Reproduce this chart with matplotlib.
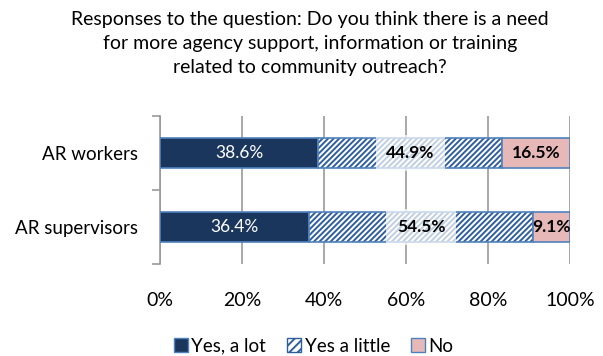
import matplotlib
matplotlib.use("Agg")
import matplotlib.pyplot as plt
from matplotlib.patches import Patch
import numpy as np

plt.rcParams['font.family'] = ['Lato', 'DejaVu Sans']
plt.rcParams['hatch.linewidth'] = 1.4

groups = ["AR workers", "AR supervisors"]
series = ["Yes, a lot", "Yes a little", "No"]
yes_lot = [38.6, 36.4]
yes_little = [44.9, 54.5]
no = [16.5, 9.1]
xticks = [0, 20, 40, 60, 80, 100]
xtick_labels = ["0%", "20%", "40%", "60%", "80%", "100%"]

navy = "#1B365D"
outline = "#4F81BD"
hatch_blue = "#2F5E9E"
pink = "#E6B9B8"

fig = plt.figure(figsize=(6.03, 3.56), dpi=100)
ax = fig.add_axes([160/603, 1-264/356, 410/603, 148/356])

y = np.array([1, 0])
h = 0.41
left = np.zeros(2)

ax.barh(y, yes_lot, left=left, height=h, color=navy, edgecolor=outline, linewidth=1.2, zorder=3)
left = left + np.array(yes_lot)
ax.barh(y, yes_little, left=left, height=h, color="white", edgecolor=hatch_blue,
        hatch="//////", linewidth=0, zorder=3)
ax.barh(y, yes_little, left=left, height=h, fill=False, edgecolor=outline, linewidth=1.2, zorder=3)
left2 = left + np.array(yes_little)
ax.barh(y, no, left=left2, height=h, color=pink, edgecolor=outline, linewidth=1.2, zorder=3)

for i in range(2):
    ax.text(yes_lot[i] / 2, y[i], f"{yes_lot[i]:.1f}%", color="white", ha="center",
            va="center", fontsize=12.5, zorder=5)
    ax.text(left[i] + yes_little[i] / 2, y[i], f"{yes_little[i]:.1f}%", color="black",
            ha="center", va="center", fontsize=12.5, fontweight="bold", zorder=5,
            bbox=dict(boxstyle="square,pad=0.6", facecolor="white", alpha=0.7,
                      edgecolor="none"))
    ax.text(left2[i] + no[i] / 2, y[i], f"{no[i]:.1f}%", color="black", ha="center",
            va="center", fontsize=12.5, fontweight="bold", zorder=5)

ax.set_xlim(0, 100)
ax.set_ylim(-0.5, 1.5)
ax.set_xticks(xticks)
ax.set_xticklabels(xtick_labels, fontsize=14)
ax.set_yticks(y)
ax.set_yticklabels(groups, fontsize=13.5)
ax.set_yticks([-0.5, 0.5, 1.5], minor=True)
ax.tick_params(axis="y", which="major", length=0, pad=16)
ax.tick_params(axis="y", which="minor", length=6, color="#999999", width=1.2)
ax.tick_params(axis="x", length=0, pad=20)
ax.grid(axis="x", color="#999999", linewidth=1.2, zorder=0)
for s in ["top", "right", "bottom"]:
    ax.spines[s].set_visible(False)
ax.spines["left"].set_color("#999999")
ax.spines["left"].set_linewidth(1.2)

fig.text(0.514, 1 - 44/356,
         "Responses to the question: Do you think there is a need\n"
         "for more agency support, information or training\n"
         "related to community outreach?",
         ha="center", va="center", fontsize=14, linespacing=1.5)

handles = [
    Patch(facecolor=navy, edgecolor=outline, label=series[0]),
    Patch(facecolor="white", edgecolor=hatch_blue, hatch="////", label=series[1]),
    Patch(facecolor=pink, edgecolor=outline, label=series[2]),
]
fig.legend(handles=handles, loc="center", bbox_to_anchor=(0.52, 1 - 346/356), ncol=3,
           frameon=False, fontsize=13.5, handlelength=0.75, handleheight=0.75,
           handletextpad=0.2, columnspacing=1.1)

fig.savefig("out.png", dpi=100)
